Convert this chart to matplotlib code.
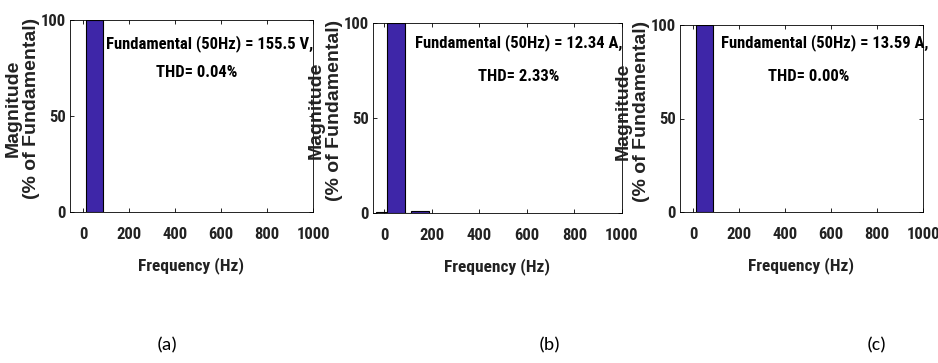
import matplotlib.pyplot as plt

# harmonic spectra (Hz, % of fundamental)
freq_a = [50]
mag_a = [100]

freq_b = [0, 100, 150, 50]
mag_b = [0.3, 0.2, 1.3, 100]

freq_c = [50]
mag_c = [100]

line1 = ["Fundamental (50Hz) = 155.5 V,",
         "Fundamental (50Hz) = 12.34 A,",
         "Fundamental (50Hz) = 13.59 A,"]
line2 = ["THD= 0.04%", "THD= 2.33%", "THD= 0.00%"]
panel_tags = ["(a)", "(b)", "(c)"]
xticks = [0, 200, 400, 600, 800, 1000]
yticks = [0, 50, 100]

narrow = ["Roboto Condensed", "DejaVu Sans"]
wide = ["Liberation Sans", "DejaVu Sans"]
bar_color = "#3e26a8"

W, H = 938, 363
fig = plt.figure(figsize=(W / 100, H / 100), dpi=100)

# axes boxes in pixels: left, right, top, bottom
boxes = [(70, 313, 20, 212), (373, 622, 23, 213), (680, 923, 25, 212)]
xlefts = [-57, -48, -57]
l1_pos = [(552, 88), (566, 89.5), (574, 90.4)]
l2_pos = [(496, 72.5), (566, 72), (504, 72.5)]
ylab_x = [-0.125, -0.12, -0.123]
tag_x = [167, 550, 877]

data = [(freq_a, mag_a), (freq_b, mag_b), (freq_c, mag_c)]

for i, (l, r, t, b) in enumerate(boxes):
    ax = fig.add_axes([l / W, 1 - b / H, (r - l) / W, (b - t) / H])
    f, m = data[i]
    ax.bar(f, m, width=74, color=bar_color, edgecolor="black", linewidth=0.8)
    ax.set_xlim(xlefts[i], 1000)
    ax.set_ylim(0, 100)
    ax.set_xticks(xticks)
    ax.set_yticks(yticks)
    ax.tick_params(direction="in", top=True, right=True, length=3, width=0.6,
                   labelsize=12)
    ax.tick_params(axis="x", pad=11)
    ax.tick_params(axis="y", pad=3)
    for lab in ax.get_xticklabels() + ax.get_yticklabels():
        lab.set_family(narrow)
        lab.set_fontweight("bold")
        lab.set_color("#222222")
    for s in ax.spines.values():
        s.set_linewidth(0.6)
    ax.set_xlabel("Frequency (Hz)", family=narrow, fontweight="bold",
                  fontsize=12.5, labelpad=11, color="#222222")
    ax.set_ylabel("Magnitude\n(% of Fundamental)", family=wide,
                  fontweight="bold", fontsize=14, linespacing=1.08,
                  color="#222222")
    ax.yaxis.set_label_coords(ylab_x[i], 0.54)
    ax.text(l1_pos[i][0], l1_pos[i][1], line1[i], family=narrow,
            fontweight="bold", fontsize=12, ha="center", va="center")
    ax.text(l2_pos[i][0], l2_pos[i][1], line2[i], family=narrow,
            fontweight="bold", fontsize=12, ha="center", va="center")
    fig.text(tag_x[i] / W, 1 - 345 / H, panel_tags[i],
             family=["Carlito", "Lato", "DejaVu Sans"], fontsize=14,
             ha="center", va="center")

fig.savefig("out.png", dpi=100)
